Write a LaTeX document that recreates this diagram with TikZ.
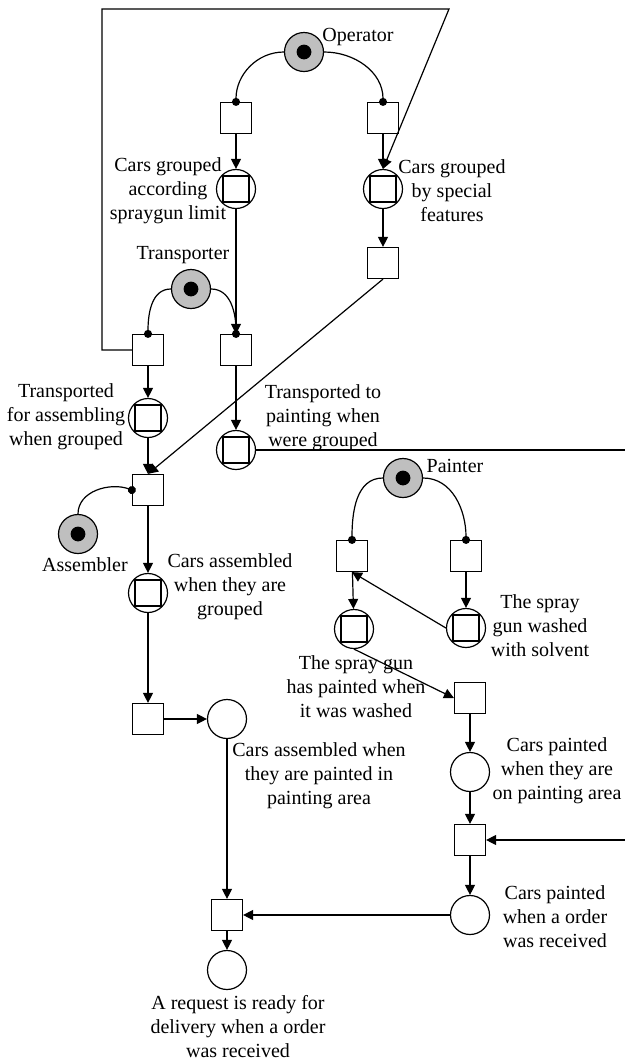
\documentclass[tikz,border=0pt]{standalone}
\usepackage{fontspec}
\setmainfont{Liberation Serif}
\usetikzlibrary{arrows.meta}

\begin{document}
\begin{tikzpicture}[x=0.5pt, y=-0.5pt, line width=0.6pt,
  place/.style={circle, draw, minimum size=19.5pt, inner sep=0pt},
  boxplace/.style={place, path picture={\draw ([shift={(-6.5pt,-6.5pt)}]path picture bounding box.center) rectangle ++(13pt,13pt);}},
  resource/.style={place, fill=black!25, path picture={\fill[black] (path picture bounding box.center) circle (3.7pt);}},
  trans/.style={rectangle, draw, minimum size=15.5pt, inner sep=0pt},
  flow/.style={-{Triangle[length=5pt,width=5pt]}},
  dotflow/.style={-{Circle[length=4pt]}, shorten >=-2pt},
  lbl/.style={font=\fontsize{10}{12}\selectfont, align=center, inner sep=0pt}]
  \useasboundingbox (0,0) rectangle (625,1061);

  \node[resource] (Pop) at (304,52) {};
  \node[lbl] at (358,37) {Operator};
  \node[trans] (Top1) at (236,118) {};
  \node[trans] (Top2) at (383,118) {};
  \node[boxplace] (Pg1) at (236,189) {};
  \node[lbl] at (168,191) {Cars grouped\\according\\spraygun limit};
  \node[boxplace] (Pg2) at (383,189) {};
  \node[lbl] at (452,191) {Cars grouped\\by special\\features};
  \node[trans] (Tg2) at (383,263) {};

  \node[resource] (Ptr) at (191,289) {};
  \node[lbl] at (183,255) {Transporter};
  \node[trans] (Ttr1) at (148,350) {};
  \node[trans] (Ttr2) at (236,350) {};
  \node[boxplace] (Pta) at (148,418) {};
  \node[lbl] at (66,417) {Transported\\for assembling\\when grouped};
  \node[boxplace] (Ptp) at (236,450) {};
  \node[lbl] at (323,418) {Transported to\\painting when\\were grouped};

  \node[trans] (Tas) at (148,490) {};
  \node[resource] (Pas) at (78,534) {};
  \node[lbl] at (85,565) {Assembler};
  \node[boxplace] (Pca) at (148,593) {};
  \node[lbl] at (230,587) {Cars assembled\\when they are\\grouped};
  \node[trans] (Tca) at (148,719) {};
  \node[place] (Pcap) at (227,719) {};
  \node[lbl] at (319,776) {Cars assembled when\\they are painted in\\painting area};
  \node[trans] (Tfin) at (227,915) {};
  \node[place] (Pfin) at (227,970) {};
  \node[lbl] at (238,1027) {A request is ready for\\delivery when a order\\was received};

  \node[resource] (Ppa) at (403,478) {};
  \node[lbl] at (455,466) {Painter};
  \node[trans] (Tp1) at (352,556) {};
  \node[trans] (Tp2) at (466,556) {};
  \node[boxplace] (Psp) at (354,629) {};
  \node[lbl] at (356,687) {The spray gun\\has painted when\\it was washed};
  \node[boxplace] (Psw) at (466,628) {};
  \node[lbl] at (540,626) {The spray\\gun washed\\with solvent};
  \node[trans] (Tpw) at (470,698) {};
  \node[place] (Pcp) at (470,772) {};
  \node[lbl] at (557,771) {Cars painted\\when they are\\on painting area};
  \node[trans] (Tpt) at (470,840) {};
  \node[place] (Pco) at (470,915) {};
  \node[lbl] at (555,917) {Cars painted\\when a order\\was received};

  \coordinate (loopTL) at (102,9);
  \coordinate (loopTR) at (449,9);
  \coordinate (outR) at (625,450);
  \coordinate (inR) at (625,840);

  \draw[dotflow] (Pop.west) to[out=180,in=90] (Top1.north);
  \draw[dotflow] (Pop.east) to[out=0,in=90] (Top2.north);
  \draw[flow] (Top1) -- (Pg1);
  \draw[flow] (Top2) -- (Pg2);
  \draw[flow] (Pg2) -- (Tg2);
  \draw[dotflow] (Ptr.west) to[out=180,in=90] (Ttr1.north);
  \draw[dotflow] (Ptr.east) to[out=0,in=90] (Ttr2.north);
  \draw[flow] (Pg1) -- (Ttr2);
  \draw[flow] (Ttr1.west) -| (loopTL) -- (loopTR) -- (Pg2.north);
  \draw[flow] (Ttr1) -- (Pta);
  \draw[flow] (Ttr2) -- (Ptp);
  \draw (Ptp) -- (outR);
  \draw[flow] (Pta) -- (Tas);
  \draw[flow] (Tg2.south) -- (Tas.north);
  \draw[dotflow] (Pas.north) to[out=90,in=160] (Tas.west);
  \draw[flow] (Tas) -- (Pca);
  \draw[flow] (Pca) -- (Tca);
  \draw[flow] (Tca) -- (Pcap);
  \draw[flow] (Pcap) -- (Tfin);
  \draw[flow] (Tfin) -- (Pfin);
  \draw[flow] (Pco) -- (Tfin);

  \draw[dotflow] (Ppa.west) to[out=180,in=90] (Tp1.north);
  \draw[dotflow] (Ppa.east) to[out=0,in=90] (Tp2.north);
  \draw[flow] (Tp1) -- (Psp);
  \draw[flow] (Tp2) -- (Psw);
  \draw[flow] (Psw.west) -- (Tp1.south);
  \draw[flow] (Psp.south) -- (Tpw.west);
  \draw[flow] (Tpw) -- (Pcp);
  \draw[flow] (Pcp) -- (Tpt);
  \draw[flow] (inR) -- (Tpt);
  \draw[flow] (Tpt) -- (Pco);
\end{tikzpicture}
\end{document}
